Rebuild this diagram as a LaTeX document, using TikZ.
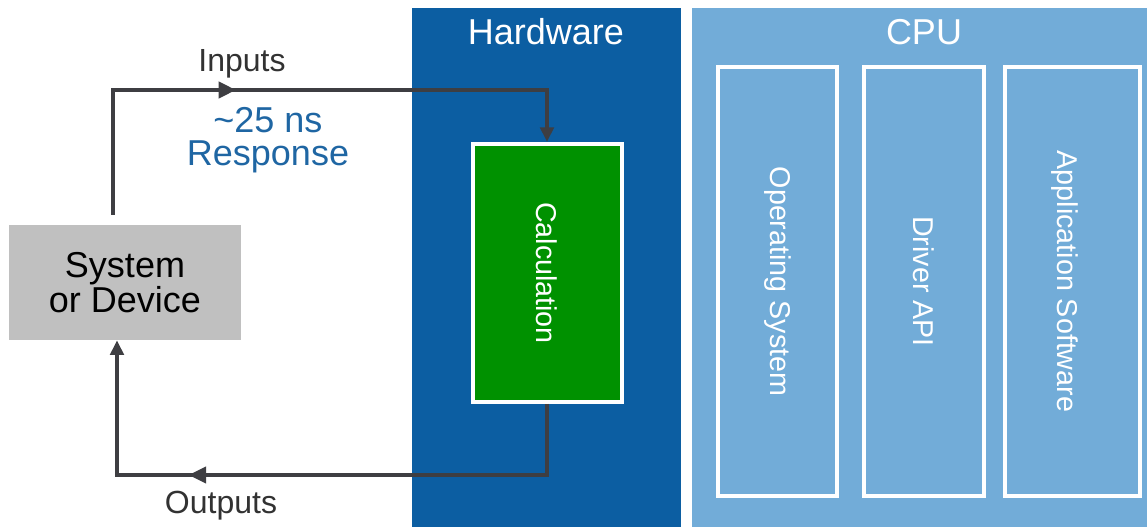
\documentclass[tikz,border=0pt]{standalone}
\usepackage{fontspec}
\setmainfont{Liberation Sans}
\usetikzlibrary{arrows.meta,positioning,calc,decorations.markings}
\definecolor{hwblue}{RGB}{12,94,162}
\definecolor{cpublue}{RGB}{114,172,216}
\definecolor{calcgreen}{RGB}{0,145,0}
\definecolor{devgray}{RGB}{192,192,192}
\definecolor{wire}{RGB}{62,62,66}
\definecolor{resp}{RGB}{31,102,163}
\definecolor{ink}{RGB}{50,50,50}
\newcommand{\bigtxt}{\fontsize{27}{25}\selectfont}
\newcommand{\midtxt}{\fontsize{24}{24}\selectfont}
\newcommand{\sidetxt}{\fontsize{21.5}{22}\selectfont}

\begin{document}
\begin{tikzpicture}[x=0.75pt,y=-0.75pt,
  flow/.style={draw=wire,line width=3pt,-{Triangle[length=11pt,width=10pt]}},
  midtip/.style={postaction={decorate},decoration={markings,
      mark=at position #1 with {\arrow[wire]{Triangle[length=13pt,width=12pt]}}}},
  swbox/.style={draw=white,line width=3pt,inner sep=0pt,
      minimum height=321.75pt},
  sidelabel/.style={rotate=-90,text=white,font=\sidetxt,inner sep=0pt}]

\useasboundingbox (0,0) rectangle (1147,527);

% ---------- the two panels ----------
\fill[hwblue] (412,8) rectangle (681,527);
\fill[cpublue] (692,8) rectangle (1147,527);
\node[text=white,font=\bigtxt] (hwtitle) at (546,32) {Hardware};
\node[text=white,font=\bigtxt] (cputitle) at (924,32) {CPU};

% ---------- device and hardware block ----------
\node[fill=devgray,inner sep=0pt,minimum width=174pt,minimum height=86.25pt,
      align=center,font=\bigtxt] (sys) at (125,282.5) {System\\or Device};
\node[fill=calcgreen,draw=white,line width=3pt,inner sep=0pt,
      minimum width=111.75pt,minimum height=193.5pt] (calc) at (547,273) {};
\node[sidelabel] (calctxt) at (calc.center) {Calculation};

% ---------- software stack on the CPU ----------
\node[swbox,minimum width=89.25pt] (os) at (777.5,281.5) {};
\node[swbox,minimum width=90pt] (drv) at (924,281.5) {};
\node[swbox,minimum width=101.25pt] (app) at (1072.5,281.5) {};
\node[sidelabel] (ostxt) at (os.center) {Operating System};
\node[sidelabel] (drvtxt) at (drv.center) {Driver API};
\node[sidelabel] (apptxt) at ([xshift=-6pt]app.center) {Application Software};

% ---------- loop: inputs in, outputs back ----------
\coordinate (inStart) at (113,215);
\coordinate (inTop) at (547,90);
\coordinate (outCorner) at (117,475);
\draw[flow,midtip=186pt] (inStart) |- (inTop) -- (calc.north);
\draw[flow,midtip=322pt] (calc.south) |- (outCorner) -- (sys.south -| outCorner);

\node[text=ink,font=\midtxt] (inlbl) at (242,64) {Inputs};
\node[text=resp,font=\bigtxt,align=center] (resplbl) at (268,140) {\textasciitilde25 ns\\Response};
\node[text=ink,font=\midtxt] (outlbl) at (221,506) {Outputs};
\end{tikzpicture}
\end{document}
